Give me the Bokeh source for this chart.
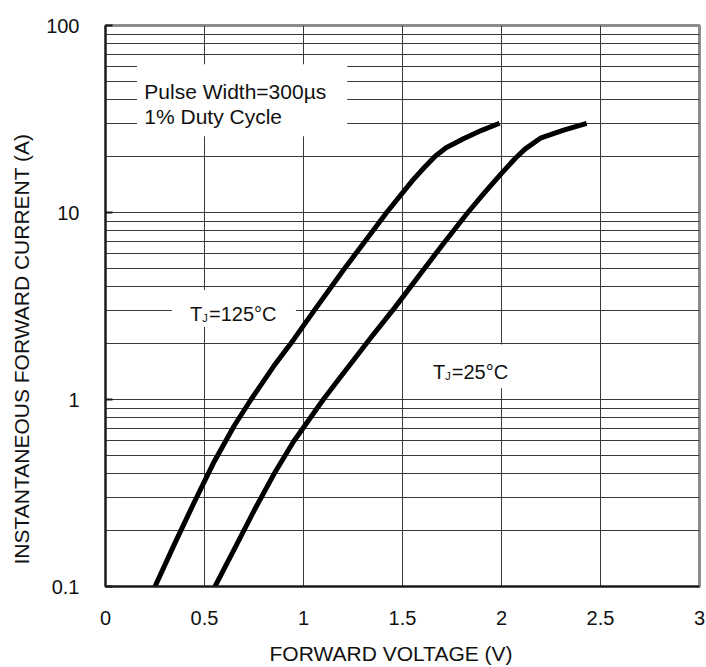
import math
from bokeh.plotting import figure
from bokeh.models import FixedTicker, Label, BoxAnnotation, Title
from bokeh.embed import file_html
from bokeh.resources import INLINE

# ---- data ----
v_125 = [0.25, 0.35, 0.45, 0.55, 0.65, 0.735, 0.85, 0.95, 1.05, 1.20, 1.31, 1.42, 1.55, 1.61, 1.665, 1.72, 1.81, 1.90, 1.99]
i_125 = [0.1, 0.17, 0.285, 0.468, 0.724, 1.0, 1.51, 2.09, 2.95, 4.9, 7.0, 10.0, 14.8, 17.4, 20.0, 22.2, 24.9, 27.5, 30]

v_25 = [0.553, 0.65, 0.75, 0.85, 0.95, 1.05, 1.10, 1.18, 1.34, 1.46, 1.61, 1.71, 1.83, 1.91, 2.00, 2.07, 2.12, 2.20, 2.31, 2.43]
i_25 = [0.1, 0.158, 0.254, 0.398, 0.596, 0.841, 1.0, 1.29, 2.14, 3.09, 5.0, 6.9, 10.0, 12.6, 16.2, 19.5, 21.9, 25.1, 27.5, 30]

x_ticks = [0, 0.5, 1, 1.5, 2, 2.5, 3]
x_tick_labels = ["0", "0.5", "1", "1.5", "2", "2.5", "3"]
y_ticks = [0.1, 1, 10, 100]
y_tick_labels = ["0.1", "1", "10", "100"]
y_minor = [m * d for d in (0.1, 1, 10) for m in range(2, 10)]

x_title = "FORWARD VOLTAGE (V)"
y_title = "INSTANTANEOUS FORWARD CURRENT (A)"
note_lines = ["Pulse Width=300µs", "1% Duty Cycle"]

FONT = "Liberation Sans"

p = figure(
    x_range=(0, 3), y_range=(0.1, 100), y_axis_type="log",
    frame_width=594, frame_height=561,
    min_border_left=105, min_border_right=7, min_border_top=25, min_border_bottom=81,
    output_backend="svg", toolbar_location=None,
    background_fill_color="white", border_fill_color="white",
)

# axes
p.xaxis.ticker = FixedTicker(ticks=x_ticks)
p.xaxis.major_label_overrides = dict(zip(x_ticks, x_tick_labels))
p.yaxis.ticker = FixedTicker(ticks=y_ticks, minor_ticks=y_minor)
p.yaxis.major_label_overrides = dict(zip(y_ticks, y_tick_labels))

for ax in (p.xaxis[0], p.yaxis[0]):
    ax.axis_line_color = "#1a1a1a"
    ax.axis_line_width = 2
    ax.major_label_text_font = FONT
    ax.major_label_text_font_size = "20px"
    ax.major_label_text_color = "#111111"
    ax.minor_tick_line_color = None
    ax.major_tick_out = 0

p.xaxis.major_tick_in = 0
p.xaxis.major_tick_line_color = None
p.xaxis.major_label_standoff = 24
p.yaxis.major_tick_in = 7
p.yaxis.major_tick_line_color = "#1a1a1a"
p.yaxis.major_tick_line_width = 2
p.yaxis.major_label_standoff = 22

# grid
p.xgrid.grid_line_color = "#3a3a3a"
p.xgrid.grid_line_width = 1
p.ygrid.grid_line_color = "#3a3a3a"
p.ygrid.grid_line_width = 1
p.ygrid.minor_grid_line_color = "#3a3a3a"
p.ygrid.minor_grid_line_width = 1

p.outline_line_color = "#8c8c8c"
p.outline_line_width = 3

# curves
p.line(v_125, i_125, line_color="black", line_width=5, line_join="round")
p.line(v_25, i_25, line_color="black", line_width=5, line_join="round")

# white boxes behind annotations
p.add_layout(BoxAnnotation(left=0.159, right=1.221, bottom=25.6, top=62,
                           fill_color="white", fill_alpha=1, line_color=None))
p.add_layout(BoxAnnotation(left=0.335, right=0.962, bottom=2.45, top=3.85,
                           fill_color="white", fill_alpha=1, line_color=None))
p.add_layout(BoxAnnotation(left=1.59, right=2.22, bottom=1.15, top=1.97,
                           fill_color="white", fill_alpha=1, line_color=None))

def lab(x, y, text, size):
    p.add_layout(Label(x=x, y=y, text=text, text_font=FONT, text_font_size=size,
                       text_color="#111111", text_baseline="alphabetic",
                       text_align="left"))

lab(0.196, 44.2, note_lines[0], "21px")
lab(0.196, 32.5, note_lines[1], "21px")

lab(0.427, 2.86, "T", "20px")
lab(0.489, 2.72, "J", "11px")
lab(0.523, 2.86, "=125°C", "20px")

lab(1.654, 1.408, "T", "20px")
lab(1.716, 1.336, "J", "11px")
lab(1.749, 1.408, "=25°C", "20px")

# axis titles
p.add_layout(Title(text=x_title, text_font=FONT, text_font_size="21px",
                   text_font_style="normal", text_color="#111111",
                   align="left", offset=164, vertical_align="bottom", standoff=24), "below")
p.add_layout(Title(text=y_title, text_font=FONT, text_font_size="21px",
                   text_font_style="normal", text_color="#111111",
                   align="left", offset=22, vertical_align="top", standoff=18), "left")

open("out.html", "w").write(file_html(p, INLINE))
